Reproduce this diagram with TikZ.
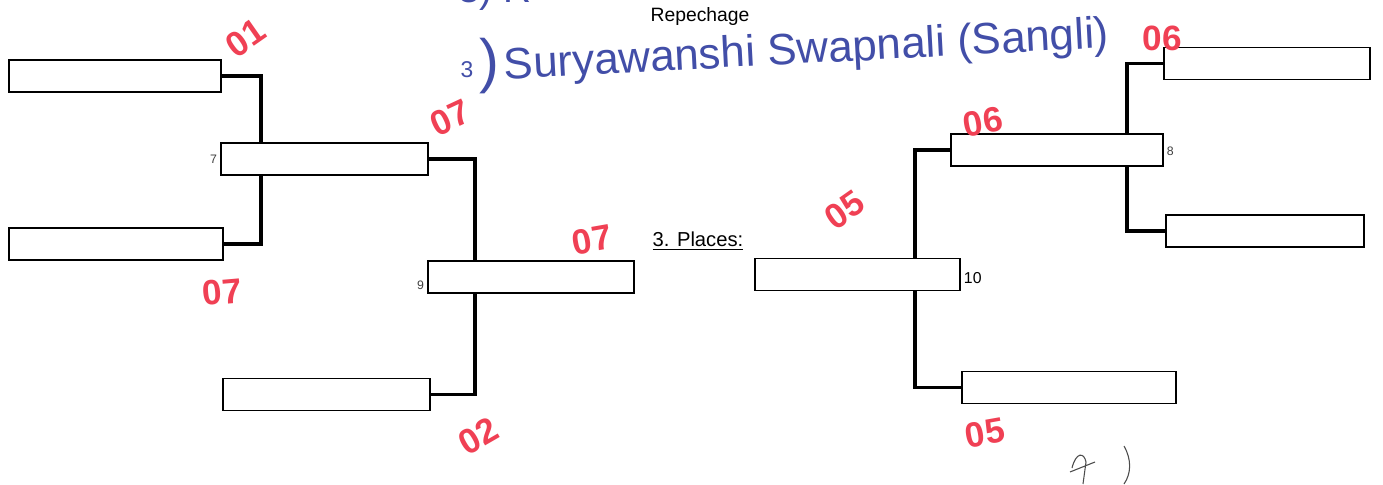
\documentclass[tikz,border=0pt]{standalone}
\usepackage{fontspec}
\setmainfont{Liberation Sans}
\usetikzlibrary{backgrounds}
\definecolor{marker}{RGB}{240,64,84}
\definecolor{ink}{RGB}{66,78,168}
\begin{document}
\begin{tikzpicture}[x=0.02cm,y=-0.02cm,
    slot/.style={draw,fill=white,line width=1.1pt,minimum width=#1*0.02cm,minimum height=0.64cm,inner sep=0pt},
    slot/.default=207,
    link/.style={line width=1.8pt},
    score/.style={text=marker,font=\fontsize{20}{20}\selectfont\bfseries,inner sep=0pt},
    num/.style={font=\fontsize{7}{7}\selectfont,text=black!75,inner sep=1.5pt},
    hand/.style={text=ink,inner sep=0pt,font=\fontsize{22}{22}\selectfont}]
    \useasboundingbox (0,0) rectangle (1383,484);
    \node[slot=212] (l1) at (115,76) {};
    \node[slot] (l2) at (324.5,159) {};
    \node[slot=214] (l3) at (116,244) {};
    \node[slot] (l4) at (326.5,394.5) {};
    \node[slot=206] (l5) at (531,277) {};
    \node[slot=206] (r1) at (1267,63.5) {};
    \node[slot=212] (r2) at (1057,150) {};
    \node[slot=198] (r3) at (1265,231) {};
    \node[slot=214] (r4) at (1069,387.5) {};
    \node[slot=205] (r5) at (857.5,274.5) {};
    \begin{scope}[on background layer]
      \fill[white] (0,0) rectangle (1383,484);
      \draw[link] (l1.east) -- ++(39,0) |- (l3.east);
      \draw[link] (l2.east) -- ++(46,0) |- (l4.east);
      \draw[link] (r1.west) -- ++(-36,0) |- (r3.west);
      \draw[link] (r2.west) -- ++(-35,0) |- (r4.west);
    \end{scope}
    \node[num,anchor=east] (n7) at (l2.west) {7};
    \node[num,anchor=east,yshift=-4.5pt] (n9) at (l5.west) {9};
    \node[num,anchor=west,yshift=-1pt] (n8) at (r2.east) {8};
    \node[num,anchor=west,yshift=-2pt,text=black,font=\fontsize{9}{9}\selectfont] (n10) at (r5.east) {10};
    \node[font=\fontsize{11}{11}\selectfont] (title) at (700,16) {Repechage};
    \node[font=\fontsize{11.5}{12}\selectfont] (places) at (698,241) {\underline{3. Places:}};
    \node[score,rotate=35] (s01) at (246,38) {01};
    \node[score,rotate=25] (s07a) at (450,118) {07};
    \node[score,rotate=5] (s07b) at (222,292) {07};
    \node[score,rotate=10] (s07c) at (592,240) {07};
    \node[score,rotate=30] (s02) at (478,436) {02};
    \node[score] (s06a) at (1162,38) {06};
    \node[score,rotate=10] (s06b) at (983,122) {06};
    \node[score,rotate=35] (s05a) at (845,210) {05};
    \node[score,rotate=10] (s05b) at (985,433) {05};
    \node[hand,anchor=west] (prev) at (458,-8) {3) R};
    \node[hand,font=\fontsize{13}{13}\selectfont] (no3) at (467,70) {3};
    \node[hand,font=\fontsize{34}{34}\selectfont] (paren) at (489,66) {)};
    \node[hand,anchor=west,rotate=3,font=\fontsize{25}{25}\selectfont] (name) at (504,68) {Suryawanshi Swapnali (Sangli)};
    \draw[black!70,line width=0.6pt] (1072,468) .. controls (1076,452) and (1084,452) .. (1086,462) -- (1083,484)
      (1070,472) -- (1095,462)
      (1124,446) .. controls (1132,460) and (1131,474) .. (1124,484);
\end{tikzpicture}
\end{document}
